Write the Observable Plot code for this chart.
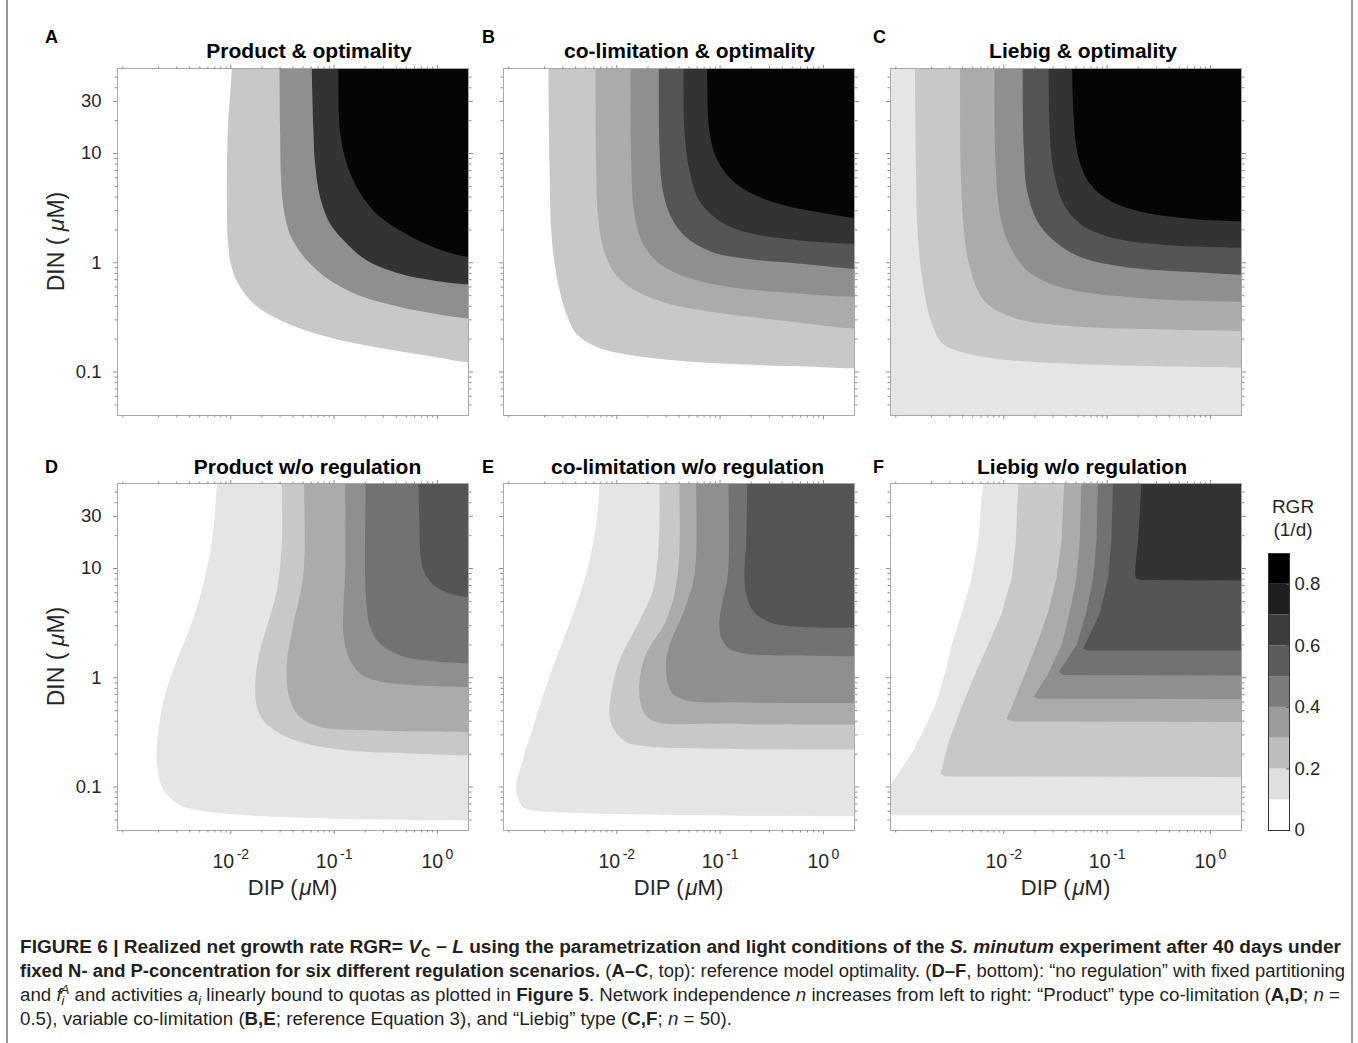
<!DOCTYPE html>
<html>
<head>
<meta charset="utf-8">
<script src="https://cdn.jsdelivr.net/npm/d3@7"></script>
<script src="https://cdn.jsdelivr.net/npm/@observablehq/plot@0.6"></script>
<style>
  html, body { margin: 0; padding: 0; background: #fff; }
  #fig { position: relative; width: 1358px; height: 1043px; overflow: hidden; background: #fff;
         font-family: "Liberation Sans", Arial, Helvetica, sans-serif; }
  .pane { position: absolute; }
  .pane svg { display: block; max-width: none !important; }
  #overlay { position: absolute; left: 0; top: 0; pointer-events: none; }
</style>
</head>
<body>
<div id="fig"></div>
<script>
// ---------------- data ----------------
const xDomain = [0.0008, 2];          // DIP (µM)
const yDomain = [0.04, 60];           // DIN (µM)
const levelBreaks = [0.1, 0.2, 0.3, 0.4, 0.5, 0.6, 0.7, 0.8];
const grayPalette = ["#ffffff", "#e5e5e5", "#c8c8c8", "#ababab", "#8f8f8f", "#727272", "#555555", "#333333", "#050505"];
const barPalette = ["#ffffff", "#dfdfdf", "#bdbdbd", "#9b9b9b", "#7b7b7b", "#5c5c5c", "#3d3d3d", "#1f1f1f", "#000000"];

const xMajorTicks = [0.01, 0.1, 1];
const xTickBase = ["10", "10", "10"];
const xTickExp = ["-2", "-1", "0"];
const xMinorTicks = [0.0009, 0.002, 0.003, 0.004, 0.005, 0.006, 0.007, 0.008, 0.009,
  0.02, 0.03, 0.04, 0.05, 0.06, 0.07, 0.08, 0.09, 0.2, 0.3, 0.4, 0.5, 0.6, 0.7, 0.8, 0.9];
const yMajorTicks = [0.1, 1, 10, 30];
const yTickLabels = ["0.1", "1", "10", "30"];
const yMinorTicks = [0.05, 0.06, 0.07, 0.08, 0.09, 0.2, 0.3, 0.4, 0.5, 0.6, 0.7, 0.8, 0.9,
  2, 3, 4, 5, 6, 7, 8, 9, 20, 40, 50];

const panelLetters = ["A", "B", "C", "D", "E", "F"];
const panelTitles = ["Product & optimality", "co-limitation & optimality", "Liebig & optimality",
  "Product w/o regulation", "co-limitation w/o regulation", "Liebig w/o regulation"];

// contour boundaries: [DIP, DIN] points, from top edge to right edge
const levelsA = [0.2, 0.4, 0.7, 0.8];
const contoursA = [
  [[0.0102,60],[0.00935,16.1],[0.00915,3.97],[0.00942,1.49],[0.0102,0.912],[0.0123,0.600],[0.0166,0.423],[0.0259,0.320],[0.0469,0.250],[0.0986,0.203],[0.300,0.164],[0.914,0.138],[2,0.1225]],
  [[0.0296,60],[0.0300,16.1],[0.0307,5.63],[0.0323,3.22],[0.0362,1.97],[0.0436,1.39],[0.0586,0.98],[0.0915,0.690],[0.192,0.486],[0.435,0.394],[0.914,0.343],[2,0.309]],
  [[0.0608,60],[0.0631,16.1],[0.0655,8.0],[0.0732,3.97],[0.0915,2.27],[0.133,1.49],[0.207,1.05],[0.435,0.794],[0.914,0.690],[2,0.634]],
  [[0.110,60],[0.114,16.1],[0.133,8.0],[0.166,4.90],[0.240,3.00],[0.435,1.97],[0.914,1.39],[2,1.13]]
];

const levelsB = [0.2, 0.3, 0.4, 0.6, 0.7, 0.8];
const contoursB = [
  [[0.00218,60],[0.00223,8.0],[0.00232,1.97],[0.00250,0.98],[0.00279,0.560],[0.00324,0.343],[0.00404,0.225],[0.00631,0.170],[0.0133,0.143],[0.0404,0.127],[0.179,0.117],[0.789,0.112],[2,0.108]],
  [[0.00622,60],[0.00631,8.0],[0.00655,2.80],[0.00733,1.39],[0.00915,0.851],[0.0133,0.600],[0.0279,0.438],[0.0849,0.355],[0.375,0.298],[2,0.250]],
  [[0.0136,60],[0.0138,8.0],[0.0148,2.80],[0.0179,1.49],[0.0259,0.98],[0.0469,0.740],[0.123,0.600],[0.375,0.540],[2,0.486]],
  [[0.0255,60],[0.0259,11.3],[0.0279,4.57],[0.0336,2.61],[0.0469,1.71],[0.0849,1.25],[0.179,1.09],[0.543,0.99],[2,0.881]],
  [[0.0442,60],[0.0452,16.1],[0.0505,6.95],[0.0631,3.70],[0.0986,2.43],[0.179,1.90],[0.543,1.62],[2,1.49]],
  [[0.0749,60],[0.0789,16.1],[0.0915,9.2],[0.123,6.04],[0.207,4.26],[0.435,3.33],[1.14,2.80],[2,2.57]]
];

const baseC = 0.1;
const levelsC = [0.2, 0.3, 0.4, 0.6, 0.7, 0.8];
const contoursC = [
  [[0.00138,60],[0.00141,8.0],[0.00146,1.97],[0.00163,0.690],[0.00196,0.298],[0.00254,0.183],[0.00382,0.153],[0.00801,0.133],[0.0352,0.120],[0.224,0.1135],[2,0.110]],
  [[0.00377,60],[0.00382,8.0],[0.00411,1.97],[0.00477,0.851],[0.00641,0.454],[0.0116,0.320],[0.0352,0.268],[0.224,0.247],[2,0.237]],
  [[0.00813,60],[0.00832,8.0],[0.00929,2.61],[0.0116,1.39],[0.0168,0.851],[0.0352,0.600],[0.155,0.486],[2,0.438]],
  [[0.0152,60],[0.0156,11.3],[0.0168,4.57],[0.0210,2.43],[0.0304,1.60],[0.0550,1.13],[0.155,0.912],[0.681,0.822],[2,0.777]],
  [[0.0272,60],[0.0278,16.1],[0.0304,6.95],[0.0379,3.45],[0.0550,2.27],[0.107,1.71],[0.324,1.47],[2,1.37]],
  [[0.0459,60],[0.0473,22.8],[0.0528,9.2],[0.0685,5.25],[0.107,3.70],[0.224,2.90],[0.681,2.52],[2,2.40]]
];

const levelsD = [0.1, 0.2, 0.3, 0.4, 0.5, 0.6];
const contoursD = [
  [[0.00733,60],[0.00655,18.0],[0.00524,6.29],[0.00404,2.91],[0.00300,1.44],[0.00223,0.621],[0.00195,0.267],[0.00192,0.175],[0.00223,0.0933],[0.00324,0.0680],[0.00404,0.0634],[0.0106,0.0562],[0.0986,0.0513],[2,0.0495]],
  [[0.0312,60],[0.0312,18.0],[0.0279,6.29],[0.0223,2.91],[0.0185,1.55],[0.0172,0.766],[0.0179,0.539],[0.0207,0.407],[0.0300,0.308],[0.0543,0.249],[0.143,0.216],[0.631,0.202],[2,0.195]],
  [[0.0513,60],[0.0505,8.93],[0.0404,3.12],[0.0353,1.55],[0.0348,0.945],[0.0375,0.621],[0.0469,0.437],[0.0732,0.354],[0.207,0.330],[2,0.318]],
  [[0.128,60],[0.128,8.93],[0.123,4.43],[0.123,2.53],[0.138,1.55],[0.179,1.09],[0.300,0.913],[0.914,0.839],[2,0.822]],
  [[0.202,60],[0.1995,8.93],[0.207,4.43],[0.223,2.91],[0.279,2.05],[0.435,1.60],[0.914,1.42],[2,1.36]],
  [[0.655,60],[0.670,25.6],[0.690,12.7],[0.760,8.93],[0.986,6.75],[1.43,5.78],[2,5.47]]
];

const levelsE = [0.1, 0.2, 0.3, 0.4, 0.5, 0.6];
const contoursE = [
  [[0.00679,60],[0.00631,25.6],[0.00505,8.93],[0.00348,3.12],[0.00240,1.25],[0.00166,0.437],[0.00123,0.175],[0.00106,0.0966],[0.00123,0.0656],[0.00143,0.0620],[0.00436,0.0578],[0.0404,0.0555],[2,0.0539]],
  [[0.0259,60],[0.0255,18.0],[0.0223,6.29],[0.0154,2.91],[0.0106,1.44],[0.00881,0.714],[0.00849,0.437],[0.00949,0.330],[0.0123,0.258],[0.0192,0.236],[0.0849,0.224],[2,0.220]],
  [[0.0404,60],[0.0389,8.93],[0.0300,3.34],[0.0192,1.66],[0.0166,0.945],[0.0168,0.621],[0.0185,0.469],[0.0240,0.393],[0.0849,0.380],[2,0.374]],
  [[0.0586,60],[0.0565,8.93],[0.0436,3.85],[0.0336,2.19],[0.0300,1.44],[0.0312,0.881],[0.0348,0.714],[0.0469,0.621],[0.179,0.595],[2,0.587]],
  [[0.121,60],[0.119,8.93],[0.106,5.10],[0.0986,3.34],[0.102,2.36],[0.123,1.84],[0.179,1.66],[0.789,1.59],[2,1.57]],
  [[0.183,60],[0.179,18.0],[0.172,8.93],[0.179,5.87],[0.207,4.13],[0.300,3.23],[0.543,2.95],[2,2.87]]
];

const levelsF = [0.1, 0.2, 0.3, 0.4, 0.5, 0.6, 0.7];
const contoursF = [
  [[0.00631,60],[0.00565,18.0],[0.00487,8.11],[0.00389,3.85],[0.00312,1.99],[0.00269,1.09],[0.00215,0.539],[0.00133,0.216],[0.00082,0.107],[0.0008,0.104],[0.0008,0.0551],[2,0.0551]],
  [[0.0138,60],[0.0131,18.0],[0.0119,8.11],[0.00949,3.85],[0.00705,1.99],[0.00505,0.986],[0.00375,0.489],[0.00289,0.249],[0.00244,0.1324],[0.00269,0.125],[2,0.1234]],
  [[0.0384,60],[0.0362,18.0],[0.0323,8.11],[0.0269,4.01],[0.0207,1.99],[0.0154,0.986],[0.0114,0.489],[0.0106,0.422],[0.0119,0.399],[2,0.393]],
  [[0.0565,60],[0.0543,18.0],[0.0505,8.11],[0.0436,4.01],[0.0362,1.99],[0.0269,1.09],[0.0195,0.670],[0.0215,0.643],[2,0.638]],
  [[0.0818,60],[0.0789,18.0],[0.0732,8.11],[0.0631,4.01],[0.0505,1.99],[0.0340,1.13],[0.0375,1.06],[2,1.05]],
  [[0.114,60],[0.110,18.0],[0.102,8.11],[0.0849,3.85],[0.0586,1.84],[0.0640,1.78],[2,1.78]],
  [[0.215,60],[0.1995,18.0],[0.185,8.93],[0.192,8.11],[0.215,7.87],[2,7.77]]
];

// colour bar
const cbLower = [0, 0.1, 0.2, 0.3, 0.4, 0.5, 0.6, 0.7, 0.8];
const cbUpper = [0.1, 0.2, 0.3, 0.4, 0.5, 0.6, 0.7, 0.8, 0.9];
const cbTicks = [0, 0.2, 0.4, 0.6, 0.8];
const cbTickLabels = ["0", "0.2", "0.4", "0.6", "0.8"];

// caption
const captionLines = [
  [["FIGURE 6 | Realized net growth rate RGR= ", "b"], ["V", "b i"], ["C", "b sub"], [" \u2212 ", "b"], ["L", "b i"],
   [" using the parametrization and light conditions of the ", "b"], ["S. minutum", "b i"], [" experiment after 40 days under", "b"]],
  [["fixed N- and P-concentration for six different regulation scenarios.", "b"], [" (", ""], ["A\u2013C", "b"],
   [", top): reference model optimality. (", ""], ["D\u2013F", "b"], [", bottom): \u201cno regulation\u201d with fixed partitioning", ""]],
  [["and ", ""], ["f", "i"], ["i", "i sub"], ["A", "i sup back"], [" and activities ", ""], ["a", "i"], ["i", "i sub"],
   [" linearly bound to quotas as plotted in ", ""], ["Figure 5", "b"], [". Network independence ", ""], ["n", "i"],
   [" increases from left to right: \u201cProduct\u201d type co-limitation (", ""], ["A,D", "b"], ["; ", ""], ["n", "i"], [" =", ""]],
  [["0.5), variable co-limitation (", ""], ["B,E", "b"], ["; reference Equation 3), and \u201cLiebig\u201d type (", ""], ["C,F", "b"],
   ["; ", ""], ["n", "i"], [" = 50).", ""]]
];

// ---------------- drawing ----------------
const FONT = '"Liberation Sans", Arial, Helvetica, sans-serif';
const TICK = "#8c8c8c", FRAME = "#a9a9a9", INK = "#262626";
const FW = 351, FH = 347;
const M = {l: 100, r: 14, t: 14, b: 60};
const fig = document.getElementById("fig");
const colorScale = {type: "threshold", domain: levelBreaks, range: grayPalette};

const ctx = document.createElement("canvas").getContext("2d");
function tw(s, size) { ctx.font = `${size}px ${FONT}`; return ctx.measureText(s).width; }

function panel(spec) {
  const yTop = yDomain[1] * 1.6, xRight = xDomain[1] * 1.6;
  const marks = [
    Plot.rect([spec.base], {x1: xDomain[0], x2: xDomain[1], y1: yDomain[0], y2: yDomain[1], fill: d => d})
  ];
  spec.contours.forEach((pts, i) => {
    const lv = spec.levels[i];
    const ring = [[pts[0][0], yTop], ...pts, [xRight, pts[pts.length - 1][1]], [xRight, yTop]];
    marks.push(Plot.line(ring, {x: d => d[0], y: d => d[1], fill: () => lv, stroke: "none",
      curve: spec.curve, clip: true}));
  });
  marks.push(Plot.frame({stroke: FRAME, strokeWidth: 1}));
  for (const anchor of ["top", "bottom"]) {
    marks.push(Plot.axisX(xMajorTicks, {anchor, tickSize: 4, tickFormat: () => "", label: null, stroke: TICK}));
    marks.push(Plot.axisX(xMinorTicks, {anchor, tickSize: 2.5, tickFormat: () => "", label: null, stroke: TICK}));
  }
  for (const anchor of ["left", "right"]) {
    marks.push(Plot.axisY(yMajorTicks, {anchor, tickSize: 4, tickFormat: () => "", label: null, stroke: TICK}));
    marks.push(Plot.axisY(yMinorTicks, {anchor, tickSize: 2.5, tickFormat: () => "", label: null, stroke: TICK}));
  }
  if (spec.yLabels) {
    marks.push(Plot.text(yMajorTicks, {y: d => d, frameAnchor: "left", text: (d, i) => yTickLabels[i],
      textAnchor: "end", dx: -16, fontSize: 18.5, fill: INK}));
  }
  if (spec.xLabels) {
    xMajorTicks.forEach((t, i) => {
      const w10 = tw(xTickBase[i], 19.5), we = tw(xTickExp[i], 14), gap = 2.5;
      const W = w10 + gap + we;
      marks.push(Plot.text([t], {x: d => d, frameAnchor: "bottom", text: () => xTickBase[i], textAnchor: "start",
        lineAnchor: "bottom", dx: -W / 2, dy: 37, fontSize: 19.5, fill: INK}));
      marks.push(Plot.text([t], {x: d => d, frameAnchor: "bottom", text: () => xTickExp[i], textAnchor: "start",
        lineAnchor: "bottom", dx: -W / 2 + w10 + gap, dy: 28, fontSize: 14, fill: INK}));
    });
  }
  const svg = Plot.plot({
    width: FW + M.l + M.r, height: FH + M.t + M.b,
    marginLeft: M.l, marginRight: M.r, marginTop: M.t, marginBottom: M.b,
    x: {type: "log", domain: xDomain, axis: null},
    y: {type: "log", domain: yDomain, axis: null},
    color: colorScale,
    style: {background: "none", overflow: "visible", fontFamily: FONT},
    marks
  });
  const div = document.createElement("div");
  div.className = "pane";
  div.style.left = (spec.left - M.l) + "px";
  div.style.top = (spec.top - M.t) + "px";
  div.style.width = (FW + M.l + M.r) + "px";
  div.appendChild(svg);
  fig.appendChild(div);
}

const colLeft = [117, 503, 890];
const rowTop = [68, 483];
const specs = [
  {base: 0, levels: levelsA, contours: contoursA, curve: "catmull-rom"},
  {base: 0, levels: levelsB, contours: contoursB, curve: "catmull-rom"},
  {base: baseC, levels: levelsC, contours: contoursC, curve: "catmull-rom"},
  {base: 0, levels: levelsD, contours: contoursD, curve: "catmull-rom"},
  {base: 0, levels: levelsE, contours: contoursE, curve: "catmull-rom"},
  {base: 0, levels: levelsF, contours: contoursF, curve: "linear"}
];
specs.forEach((s, i) => {
  const col = i % 3, row = Math.floor(i / 3);
  panel({...s, left: colLeft[col], top: rowTop[row], yLabels: col === 0, xLabels: row === 1});
});

// colour bar
{
  const cb = Plot.plot({
    width: 21 + 45, height: 277,
    marginLeft: 0, marginRight: 45, marginTop: 0, marginBottom: 0,
    x: {domain: [0, 1], axis: null},
    y: {domain: [0, 0.9], axis: null},
    color: {type: "threshold", domain: levelBreaks, range: barPalette},
    style: {background: "none", overflow: "visible", fontFamily: FONT},
    marks: [
      Plot.rect(cbLower, {x1: 0, x2: 1, y1: d => d, y2: (d, i) => cbUpper[i], fill: d => d}),
      Plot.ruleY(cbTicks.slice(1), {x1: 0.86, x2: 1, stroke: "#555", strokeWidth: 1}),
      Plot.frame({stroke: "#333", strokeWidth: 1}),
      Plot.text(cbTicks, {y: d => d, frameAnchor: "right", text: (d, i) => cbTickLabels[i], textAnchor: "start",
        dx: 5, fontSize: 18.5, fill: INK})
    ]
  });
  const div = document.createElement("div");
  div.className = "pane";
  div.style.left = "1268px";
  div.style.top = "553px";
  div.style.width = "66px";
  div.appendChild(cb);
  fig.appendChild(div);
}

// overlay text
const ov = d3.select(fig).append("svg").attr("id", "overlay")
  .attr("width", 1358).attr("height", 1043).style("font-family", FONT);

// figure border
ov.append("line").attr("x1", 7).attr("x2", 7).attr("y1", 0).attr("y2", 1043).attr("stroke", "#9a9a9a").attr("stroke-width", 2);
ov.append("line").attr("x1", 1352).attr("x2", 1352).attr("y1", 0).attr("y2", 1043).attr("stroke", "#9a9a9a").attr("stroke-width", 2);

const letterX = [45, 482, 873];
const titleCX = [[309, 689.5, 1083], [307.5, 687.5, 1082]];
panelLetters.forEach((L, i) => {
  const col = i % 3, row = Math.floor(i / 3);
  ov.append("text").attr("x", letterX[col]).attr("y", row === 0 ? 43 : 473)
    .attr("font-weight", "bold").attr("font-size", 18).attr("fill", "#000").text(L);
  ov.append("text").attr("x", titleCX[row][col]).attr("y", row === 0 ? 58 : 474)
    .attr("text-anchor", "middle").attr("font-weight", "bold").attr("font-size", 21).attr("fill", "#000")
    .text(panelTitles[i]);
});

// y axis labels
rowTop.forEach(top => {
  const cy = top + FH / 2;
  const t = ov.append("text").attr("transform", `translate(64,${cy}) rotate(-90)`)
    .attr("text-anchor", "middle").attr("font-size", 23).attr("fill", INK);
  t.append("tspan").text("DIN ( ");
  t.append("tspan").attr("font-style", "italic").text("\u03bc");
  t.append("tspan").text("M)");
});
// x axis labels
colLeft.forEach(left => {
  const t = ov.append("text").attr("x", left + FW / 2).attr("y", 895)
    .attr("text-anchor", "middle").attr("font-size", 22).attr("fill", INK);
  t.append("tspan").text("DIP (");
  t.append("tspan").attr("font-style", "italic").attr("dx", 2).text("\u03bc");
  t.append("tspan").text("M)");
});

// colour bar title
ov.append("text").attr("x", 1293).attr("y", 513).attr("text-anchor", "middle").attr("font-size", 19).attr("fill", INK).text("RGR");
ov.append("text").attr("x", 1293).attr("y", 536).attr("text-anchor", "middle").attr("font-size", 19).attr("fill", INK).text("(1/d)");

// caption
const capBaselines = [953, 977, 1001, 1025];
const capFullWidths = [1321, 1325, 1320];
const capTexts = captionLines.map((segs, li) => {
  const t = ov.append("text").attr("x", 20).attr("y", capBaselines[li]).attr("font-size", 17.5)
    .attr("fill", "#231f20");
  let off = 0;
  segs.forEach(([s, st]) => {
    const f = st.split(" ");
    const ts = t.append("tspan").text(s);
    if (f.includes("b")) ts.attr("font-weight", "bold");
    if (f.includes("i")) ts.attr("font-style", "italic");
    let target = 0;
    if (f.includes("sub")) { target = 4; ts.attr("font-size", 12); }
    if (f.includes("sup")) { target = -7; ts.attr("font-size", 12); }
    if (target !== off) { ts.attr("dy", target - off); off = target; }
    if (f.includes("back")) ts.attr("dx", -3.5);
  });
  return t;
});
const natural = capTexts.map(t => t.node().getComputedTextLength());
const factors = capFullWidths.map((w, i) => w / natural[i]);
const meanFactor = d3.mean(factors);
capTexts.forEach((t, i) => {
  const target = i < 3 ? capFullWidths[i] : natural[i] * meanFactor;
  t.attr("textLength", target).attr("lengthAdjust", "spacingAndGlyphs");
});
</script>
</body>
</html>
